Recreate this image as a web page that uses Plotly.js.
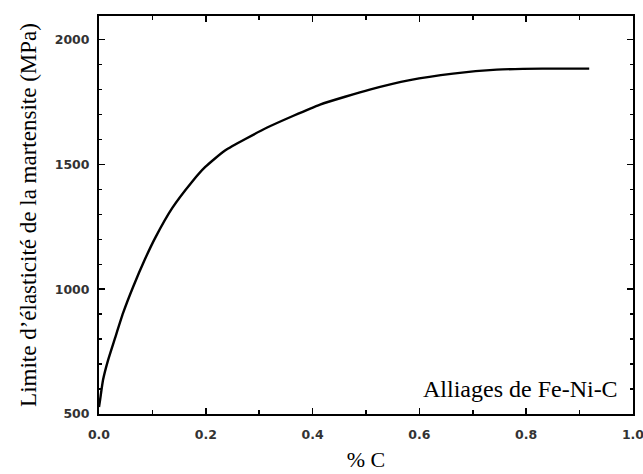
<!DOCTYPE html>
<html><head><meta charset="utf-8">
<script src="https://cdn.plot.ly/plotly-3.0.1.min.js"></script>
<style>body{margin:0;background:#fff}#c{width:643px;height:474px}</style>
</head><body><div id="c"></div>
<script>
const carbon = [0.0, 0.002, 0.0075, 0.017, 0.030, 0.045, 0.064, 0.086, 0.105, 0.137, 0.174, 0.199, 0.236, 0.315, 0.414, 0.507, 0.582, 0.663, 0.745, 0.83, 0.918];
const yieldMPa = [528, 556, 636, 716, 804, 904, 1010, 1120, 1205, 1325, 1430, 1490, 1556, 1648, 1740, 1800, 1838, 1864, 1880, 1884, 1884];
const xTicks = [0, 0.2, 0.4, 0.6, 0.8, 1.0];
const xTickLabels = ['0.0', '0.2', '0.4', '0.6', '0.8', '1.0'];
const yTicks = [500, 1000, 1500, 2000];
const yTickLabels = ['500', '1000', '1500', '2000'];

const tickFont = {family: 'DejaVu Sans', size: 12.5, color: '#333', weight: 'bold'};
const serif = 'Liberation Serif, Times New Roman';
Plotly.newPlot('c', [{
  x: carbon, y: yieldMPa, type: 'scatter', mode: 'lines',
  line: {color: '#000', width: 2.4, shape: 'spline', smoothing: 0.5}
}], {
  width: 643, height: 474,
  margin: {l: 99, r: 10, t: 16, b: 60},
  paper_bgcolor: '#fff', plot_bgcolor: '#fff',
  showlegend: false,
  xaxis: {
    range: [0, 1.0], tickvals: xTicks, ticktext: xTickLabels,
    ticks: 'inside', ticklen: 6, tickwidth: 1.5, tickcolor: '#000',
    showline: true, linecolor: '#000', linewidth: 2, mirror: 'allticks',
    showgrid: false, zeroline: false, tickfont: tickFont, ticklabelstandoff: 8,
    ticklabeloverflow: 'allow',
    minor: {dtick: 0.1, ticks: 'inside', ticklen: 4, tickcolor: '#000', showgrid: false},
    title: {text: '% C', font: {family: serif, size: 22, color: '#000'}, standoff: 11}
  },
  yaxis: {
    range: [500, 2095], tickvals: yTicks, ticktext: yTickLabels,
    ticks: 'inside', ticklen: 6, tickwidth: 1.5, tickcolor: '#000',
    showline: true, linecolor: '#000', linewidth: 2, mirror: 'allticks',
    showgrid: false, zeroline: false, tickfont: tickFont, ticklabelstandoff: 5,
    ticklabeloverflow: 'allow',
    minor: {dtick: 100, ticks: 'inside', ticklen: 3, tickcolor: '#000', showgrid: false},
    title: {text: 'Limite d’élasticité de la martensite (MPa)', font: {family: serif, size: 23, color: '#000'}, standoff: 12}
  },
  annotations: [{
    text: 'Alliages de Fe-Ni-C', xref: 'paper', yref: 'y', x: 0.975, y: 600,
    xanchor: 'right', yanchor: 'middle', showarrow: false,
    font: {family: serif, size: 24, color: '#000'}
  }]
}, {displayModeBar: false, staticPlot: true});
</script></body></html>
